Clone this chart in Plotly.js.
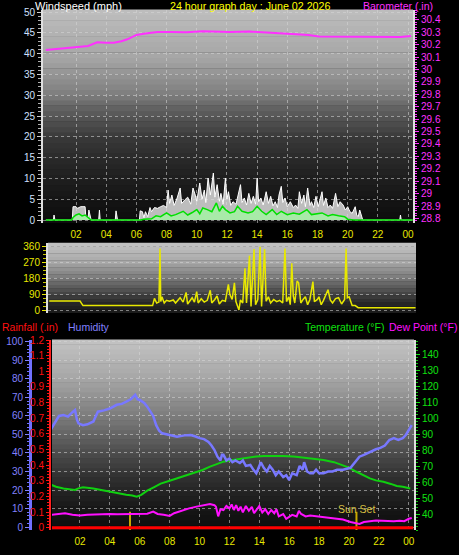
<!DOCTYPE html>
<html><head><meta charset="utf-8">
<script src="https://cdn.plot.ly/plotly-3.0.1.min.js"></script>
<style>html,body{margin:0;padding:0;background:#000;}#chart{width:459px;height:555px;}</style>
</head><body><div id="chart"></div>
<script>
// ---------- DATA (hours of day, 0..24) ----------
const hourTicks = [2,4,6,8,10,12,14,16,18,20,22,24];
const hourLabels = ['02','04','06','08','10','12','14','16','18','20','22','00'];

const baroHours = [0,1.4,2.3,2.8,3.4,4.0,4.5,5.0,5.4,6.0,6.6,7.4,8.3,9.3,10.4,11.3,12.2,13.5,14.3,15.0,16.0,17.4,18.1,19.0,20.0,21.0,22.0,22.9,23.5,24.2];
const baro = [30.158,30.172,30.18,30.19,30.22,30.215,30.217,30.228,30.244,30.279,30.29,30.303,30.302,30.30,30.309,30.305,30.303,30.306,30.30,30.293,30.29,30.279,30.266,30.265,30.262,30.26,30.258,30.257,30.262,30.27];

const gustHours = [0,0.5,0.54,0.6,1.75,1.8,2.0,2.1,2.3,2.6,2.65,2.8,2.85,2.9,3.0,3.5,3.55,3.6,4.6,4.65,4.7,4.75,6.2,6.25,6.4,6.5,6.6,6.75,6.9,7.0,7.2,7.4,7.6,7.8,8.0,8.1,8.2,8.35,8.5,8.7,8.9,9.0,9.2,9.4,9.6,9.75,9.9,10.0,10.2,10.35,10.5,10.6,10.75,10.9,11.1,11.2,11.35,11.5,11.6,11.75,11.9,12.0,12.1,12.25,12.4,12.6,12.9,13.0,13.15,13.3,13.45,13.6,13.75,13.9,14.0,14.1,14.25,14.4,14.6,14.75,14.9,15.05,15.2,15.35,15.45,15.6,15.7,15.85,16.0,16.2,16.4,16.55,16.7,16.8,16.95,17.1,17.2,17.35,17.5,17.6,17.75,17.9,18.05,18.3,18.4,18.55,18.7,18.85,19.0,19.2,19.35,19.5,19.7,19.85,20.0,20.15,20.3,20.5,20.6,20.7,20.8,20.9,21.0,23.45,23.5,23.55,24.3];
const gust = [0,0,1.2,0,0,3.2,3.2,2.8,3.2,3.2,0.5,0.5,2.4,1.2,0,0,2.4,0,0,2.2,0.8,0,0,2.2,2.0,0.5,2.0,0.8,3.0,2.0,3.0,2.8,3.2,3.5,3.0,7.2,4.0,6.0,3.5,5.3,7.7,4.0,4.8,5.5,3.8,7.7,6.0,4.5,8.9,5.0,7.2,4.2,10.1,6.0,11.3,5.5,8.5,4.5,6.4,3.8,10.1,5.0,6.8,3.5,4.4,3.8,8.5,4.2,5.3,3.6,6.4,4.0,5.7,3.8,10.1,4.4,5.3,3.6,6.8,4.0,5.7,3.4,4.4,3.0,6.0,8.1,4.2,5.3,3.2,4.4,3.0,3.6,2.8,6.8,4.0,6.0,3.2,7.7,3.5,4.4,3.0,5.7,3.2,6.8,3.5,5.3,3.0,3.6,2.8,6.4,3.2,4.4,3.6,2.4,3.2,2.0,1.6,3.2,1.2,0.8,2.4,1.0,0,0,1.2,0,0];

const avgHours = [0,1.7,1.8,2.0,2.2,2.4,2.6,2.8,3.0,6.3,6.5,7.0,7.3,7.6,8.0,8.3,8.6,9.1,9.4,9.7,10.0,10.2,10.4,10.7,11.0,11.3,11.5,11.7,11.9,12.2,12.5,12.7,13.0,13.4,13.7,14.0,14.3,14.6,15.0,15.3,15.6,16.0,16.4,16.8,17.3,17.6,18.0,18.3,18.7,19.0,19.4,19.8,20.0,20.4,24.3];
const avgWind = [0,0,0.6,1.2,1.5,1.0,1.2,0.5,0,0,0.2,0.3,1.0,0.8,1.7,1.0,1.3,2.1,1.2,1.8,2.5,1.5,2.9,2.5,2.0,4.1,2.1,3.3,2.5,1.7,2.0,3.3,2.1,1.7,2.0,3.3,2.1,1.3,2.5,1.3,2.1,1.3,1.7,1.4,2.5,1.3,1.5,1.7,1.0,1.3,1.0,0.8,0.2,0,0];

const dirHours = [0.23,2.27,2.47,7.08,7.2,7.35,7.5,7.57,7.62,7.7,7.85,8.0,8.2,8.45,8.6,8.9,9.1,9.3,9.4,9.55,9.7,9.85,10.0,10.1,10.3,10.5,10.7,10.9,11.0,11.2,11.35,11.5,11.7,11.9,12.1,12.2,12.35,12.5,12.6,12.8,12.9,13.05,13.2,13.3,13.5,13.6,13.8,13.9,14.05,14.2,14.3,14.5,14.6,14.75,14.9,15.1,15.3,15.5,15.7,15.85,15.95,16.1,16.2,16.3,16.4,16.5,16.65,16.75,16.9,17.05,17.2,17.35,17.5,17.7,17.8,18.0,18.1,18.25,18.4,18.7,18.85,19.0,19.2,19.4,19.6,19.8,19.9,19.98,20.1,20.3,20.5,20.7,24.5];
const windDir = [51,51,25,25,66,40,45,350,48,75,40,55,50,57,40,70,45,100,34,55,70,45,105,40,64,45,55,112,40,60,80,34,55,50,146,88,60,155,48,0,57,40,237,40,309,20,347,30,60,360,20,347,50,75,40,60,48,55,40,350,48,75,30,265,80,40,165,155,40,60,75,30,60,162,48,60,75,30,55,115,57,40,65,70,34,60,350,70,75,25,25,13,13];

const humHours = [0,0.3,0.6,0.9,1.2,1.5,1.67,1.8,1.9,2.2,2.5,2.9,3.2,3.6,4.0,4.46,4.8,5.1,5.4,5.7,5.85,6.0,6.3,6.5,6.7,6.9,7.1,7.3,7.5,8.0,8.5,9.0,9.4,9.7,10.0,10.3,10.6,10.8,11.0,11.2,11.4,11.5,11.6,11.8,12.0,12.2,12.4,12.7,12.9,13.1,13.4,13.6,13.8,14.0,14.1,14.3,14.5,14.7,14.9,15.1,15.3,15.6,15.8,16.0,16.2,16.5,16.7,16.9,17.0,17.2,17.4,17.6,17.8,18.0,18.3,18.6,18.9,19.2,19.6,20.1,20.4,20.7,21.0,21.4,21.8,22.1,22.4,22.7,23.0,23.3,23.6,23.8,24.0,24.2];
const humidity = [52,56,60,60.5,59.6,62,63.2,58,56,55,55.5,57,62.3,63,64,66,66.5,67.7,69,71.4,69,68.6,67,65,62.3,60,55,52,50.6,49.7,48.8,49.5,49.7,49,48,47.5,46,44,41.6,38,36,39,39,36,37,35,36,34.6,36,33,33.5,31,29,33,35,32,30,33,31,28,30,27,28,25.4,29,28,33,31,35,30,29,29,31,29,29,30,30,31,31,32,35,38,39,40.7,42,42.7,44,47,48,47,48,49.7,52,55];

const tempHours = [0,0.4,0.9,1.67,1.9,2.2,2.9,3.6,4.5,5.1,5.5,5.8,6.1,6.5,7.0,7.4,8.0,8.5,9.0,9.6,10.2,10.7,11.2,11.6,12.0,12.5,13.0,13.4,13.8,14.3,15.0,15.6,16.3,16.9,17.6,18.3,19.0,19.6,20.0,20.5,21.0,21.4,21.8,22.3,22.8,23.2,23.6,24.1];
const temperature = [58.5,57,56,55,56,56.7,56,54.6,53,52,51.5,50.8,52,54.6,57,59,60.8,62.3,63.8,65.4,67.5,69.6,71.5,72.7,73.5,74.2,75,75.4,76,76.2,76.4,76.2,76,75.4,74.6,73.8,72.4,70.6,69,66.4,64,62.3,61,60.2,58.8,57.5,57,56];

const dewHours = [0,0.5,1.0,1.5,2.0,2.5,3.0,3.5,4.0,4.5,5.0,5.5,6.0,6.5,6.9,7.2,7.6,8.0,8.3,8.9,9.3,9.8,10.2,10.7,11.0,11.1,11.25,11.4,11.6,11.8,12.0,12.15,12.3,12.45,12.6,12.75,12.9,13.1,13.3,13.5,13.65,13.8,14.0,14.2,14.4,14.6,14.8,15.0,15.15,15.3,15.6,15.8,16.0,16.2,16.5,16.65,16.8,17.1,17.4,17.8,18.3,18.7,19.2,19.6,20.1,20.4,20.7,21.0,21.4,21.8,22.2,22.6,23.0,23.4,23.7,24.0,24.2];
const dewPoint = [39.4,40,40.4,39.5,39,39.5,39.8,39.8,40,39.8,40,40.2,40.4,40.2,41.5,40,39.5,38.8,40.5,42.5,43.5,44.6,45.3,46.3,45.5,44.6,38.5,43,42.5,45,43.5,46,42.5,45.5,42,44.6,41,45,42,44.5,40.5,42.5,45,41,43,40,42.5,40.5,43,38.5,40,37,38.5,39.5,38.5,42,40,38.5,39,38.5,38,37.8,37,36.5,35,34.5,33.8,35,35.3,36,35.8,35.5,35.5,35.8,35.5,37,37.5];

const rainHours = [0,24.3];
const rainfall = [0,0];

const sunriseHour = 5.35;
const sunsetHour = 20.5;
const sunMarkRange = [30, 41.4];

// ---------- helpers ----------
const W = 459, H = 555;
const px = v => v / W, py = v => 1 - v / H;
const fmt = v => String(+v.toFixed(1));
const range = (a, b, s) => { const r = []; for (let v = a; v <= b + 1e-9; v += s) r.push(+v.toFixed(4)); return r; };
const FONT = 'Liberation Sans, Arial, sans-serif';

function gradient(xref, yref, stops, n) {
  const shapes = [];
  const g = f => {
    for (let i = 0; i < stops.length - 1; i++) {
      const [f0, c0] = stops[i], [f1, c1] = stops[i + 1];
      if (f >= f0 && f <= f1) return c0 + (c1 - c0) * (f - f0) / (f1 - f0);
    }
    return stops[stops.length - 1][1];
  };
  for (let i = 0; i < n; i++) {
    const c = Math.round(g((i + 0.5) / n));
    shapes.push({type: 'rect', xref, yref, x0: 0, x1: 1, y0: i / n, y1: (i + 1) / n + 0.002,
      fillcolor: `rgb(${c},${c},${c})`, line: {width: 0}, layer: 'below'});
  }
  return shapes;
}

const grid = {showgrid: true, gridcolor: 'rgba(215,215,215,0.55)', griddash: 'dot', gridwidth: 1};

const traces = [
  // Panel 1
  {x: gustHours, y: gust, xaxis: 'x', yaxis: 'y', type: 'scatter', mode: 'lines', fill: 'tozeroy',
   fillcolor: 'rgba(220,220,220,0.85)', line: {color: '#ffffff', width: 1}, hoverinfo: 'skip'},
  {x: avgHours, y: avgWind, xaxis: 'x', yaxis: 'y', type: 'scatter', mode: 'lines', fill: 'tozeroy',
   fillcolor: '#a8eaa8', line: {color: '#00e000', width: 1.5}, hoverinfo: 'skip'},
  {x: baroHours, y: baro, xaxis: 'x', yaxis: 'y2', type: 'scatter', mode: 'lines',
   line: {color: '#ff30ff', width: 2}, hoverinfo: 'skip'},
  // Panel 2
  {x: dirHours, y: windDir, xaxis: 'x2', yaxis: 'y3', type: 'scatter', mode: 'lines',
   line: {color: '#e8e800', width: 1.5}, hoverinfo: 'skip'},
  // Panel 3
  {x: rainHours, y: rainfall, xaxis: 'x3', yaxis: 'y7', type: 'scatter', mode: 'lines',
   line: {color: '#ff0000', width: 3}, hoverinfo: 'skip'},
  {x: [sunriseHour, sunriseHour, null, sunsetHour, sunsetHour], y: [sunMarkRange[0], sunMarkRange[1], null, sunMarkRange[0], sunMarkRange[1]],
   xaxis: 'x3', yaxis: 'y5', type: 'scatter', mode: 'lines', line: {color: '#c8a800', width: 2}, hoverinfo: 'skip'},
  {x: humHours, y: humidity, xaxis: 'x3', yaxis: 'y6', type: 'scatter', mode: 'lines',
   line: {color: '#7878ff', width: 2.5}, hoverinfo: 'skip'},
  {x: tempHours, y: temperature, xaxis: 'x3', yaxis: 'y5', type: 'scatter', mode: 'lines',
   line: {color: '#10d010', width: 2}, hoverinfo: 'skip'},
  {x: dewHours, y: dewPoint, xaxis: 'x3', yaxis: 'y5', type: 'scatter', mode: 'lines',
   line: {color: '#ff10ff', width: 2}, hoverinfo: 'skip'}
];

const xCommon = {tickvals: hourTicks, ticktext: hourLabels, tickfont: {color: '#e8e800', size: 10, family: FONT},
  ticks: '', ticklabelstandoff: 4, zeroline: false, showline: false, fixedrange: true};

const layout = {
  width: W, height: H, margin: {l: 0, r: 0, t: 0, b: 0},
  paper_bgcolor: '#000', plot_bgcolor: 'rgba(0,0,0,0)', showlegend: false,
  font: {family: FONT},
  xaxis: Object.assign({}, xCommon, grid, {domain: [px(43), px(413)], range: [-0.19, 24.33], anchor: 'y'}),
  yaxis: Object.assign({}, grid, {domain: [py(223), py(10)], range: [-0.72, 50.5], anchor: 'x',
    tickvals: range(0, 50, 5), tickfont: {color: '#d0e0ff', size: 10, family: FONT},
    ticks: 'outside', ticklen: 4, tickcolor: '#d0d0d0', showline: true, linecolor: '#e0e0e0', linewidth: 2,
    minor: {dtick: 1, ticks: 'outside', ticklen: 3, tickcolor: '#b0b0b0', showgrid: false},
    zeroline: false, fixedrange: true}),
  yaxis2: {overlaying: 'y', side: 'right', anchor: 'x', range: [28.763, 30.48],
    tickvals: range(28.8, 30.4, 0.1), ticktext: range(28.8, 30.4, 0.1).map(fmt),
    tickfont: {color: '#ff30ff', size: 10, family: FONT}, ticks: 'outside', ticklen: 4, tickcolor: '#ff30ff',
    showline: true, linecolor: '#e0e0e0', linewidth: 2, showgrid: false, zeroline: false,
    minor: {dtick: 0.02, ticks: 'outside', ticklen: 2, tickcolor: '#ff30ff'}, fixedrange: true},

  xaxis2: Object.assign({}, xCommon, {domain: [px(48), px(416)], range: [0.15, 24.53], anchor: 'y3',
    showticklabels: false, showgrid: false}),
  yaxis3: Object.assign({}, grid, {domain: [py(313), py(243)], range: [-17, 381], anchor: 'x2',
    tickvals: [0, 90, 180, 270, 360], tickfont: {color: '#e8e800', size: 10, family: FONT},
    ticks: 'outside', ticklen: 4, tickcolor: '#e8e800', showline: true, linecolor: '#e0e0e0', linewidth: 2,
    minor: {dtick: 22.5, ticks: 'outside', ticklen: 3, tickcolor: '#c8c800', showgrid: false},
    zeroline: false, fixedrange: true}),
  yaxis4: {overlaying: 'y3', side: 'right', anchor: 'x2', range: [-17, 381],
    tickvals: [0, 90, 180, 270, 360], ticktext: ['N', 'E', 'S', 'W', 'N'],
    tickfont: {color: '#e8e800', size: 15, family: FONT}, ticks: '', ticklabelstandoff: 13,
    showgrid: false, zeroline: false, showline: false, fixedrange: true},

  xaxis3: Object.assign({}, xCommon, grid, {domain: [px(52), px(414)], range: [0.13, 24.35], anchor: 'y5'}),
  yaxis5: {domain: [py(530), py(340)], range: [30, 148.75], anchor: 'x3', side: 'right',
    tickvals: range(40, 140, 10), tickfont: {color: '#10e010', size: 10, family: FONT},
    ticks: 'outside', ticklen: 4, tickcolor: '#10e010', showline: true, linecolor: '#e0e0e0', linewidth: 2,
    minor: {dtick: 2, ticks: 'outside', ticklen: 2, tickcolor: '#10c010'},
    showgrid: false, zeroline: false, fixedrange: true},
  yaxis6: Object.assign({}, grid, {overlaying: 'y5', anchor: 'free', position: px(30), side: 'left', range: [-1.6, 101],
    tickvals: range(0, 100, 10), tickfont: {color: '#8080ff', size: 10, family: FONT},
    ticks: 'outside', ticklen: 4, tickcolor: '#8080ff', showline: true, linecolor: '#7070ff', linewidth: 3,
    minor: {dtick: 2, ticks: 'outside', ticklen: 2, tickcolor: '#7070ff', showgrid: false},
    zeroline: false, fixedrange: true}),
  yaxis7: {overlaying: 'y5', anchor: 'free', position: px(50), side: 'left', range: [-0.015, 1.2],
    tickvals: range(0, 1.2, 0.1), ticktext: range(0, 1.2, 0.1).map(fmt),
    tickfont: {color: '#ff1010', size: 10, family: FONT}, ticks: 'outside', ticklen: 3, tickcolor: '#ff1010',
    showline: true, linecolor: '#ff2020', linewidth: 2, showgrid: false, zeroline: false,
    minor: {dtick: 0.02, ticks: 'outside', ticklen: 2, tickcolor: '#ff1010'}, fixedrange: true},

  shapes: [].concat(
    gradient('x domain', 'y domain', [[0, 12], [0.1, 20], [0.25, 35], [0.39, 55], [0.53, 95], [0.6, 125], [0.77, 165], [1, 190]], 40),
    gradient('x2 domain', 'y3 domain', [[0, 25], [0.11, 35], [0.26, 65], [0.49, 120], [0.74, 170], [1, 195]], 20),
    gradient('x3 domain', 'y5 domain', [[0, 12], [0.105, 22], [0.26, 45], [0.42, 80], [0.58, 120], [0.79, 165], [1, 195]], 40)
  ),
  annotations: [
    {text: 'Windspeed (mph)', xref: 'paper', yref: 'paper', x: px(33), y: py(6), xanchor: 'left', yanchor: 'middle', showarrow: false, font: {color: '#ffffff', size: 11, family: FONT}},
    {text: '24 hour graph day : June 02 2026', xref: 'paper', yref: 'paper', x: px(250), y: py(6), xanchor: 'center', yanchor: 'middle', showarrow: false, font: {color: '#ffff00', size: 10.7, family: FONT}},
    {text: 'Barometer (.in)', xref: 'paper', yref: 'paper', x: px(435), y: py(6), xanchor: 'right', yanchor: 'middle', showarrow: false, font: {color: '#ff30ff', size: 10.5, family: FONT}},
    {text: 'Rainfall (.in)', xref: 'paper', yref: 'paper', x: px(0), y: py(327), xanchor: 'left', yanchor: 'middle', showarrow: false, font: {color: '#ff1010', size: 10.5, family: FONT}},
    {text: 'Humidity', xref: 'paper', yref: 'paper', x: px(66), y: py(327), xanchor: 'left', yanchor: 'middle', showarrow: false, font: {color: '#8080ff', size: 10.5, family: FONT}},
    {text: 'Temperature (°F)', xref: 'paper', yref: 'paper', x: px(386), y: py(327), xanchor: 'right', yanchor: 'middle', showarrow: false, font: {color: '#10e010', size: 10.5, family: FONT}},
    {text: 'Dew Point (°F)', xref: 'paper', yref: 'paper', x: px(459), y: py(327), xanchor: 'right', yanchor: 'middle', showarrow: false, font: {color: '#ff10ff', size: 10.5, family: FONT}},
    {text: 'Sun Set', xref: 'x3', yref: 'y5', x: sunsetHour, y: 43.2, xanchor: 'center', yanchor: 'middle', showarrow: false, font: {color: '#d8c040', size: 10.5, family: FONT}}
  ]
};

Plotly.newPlot('chart', traces, layout, {staticPlot: true, displayModeBar: false});
</script>
</body></html>
